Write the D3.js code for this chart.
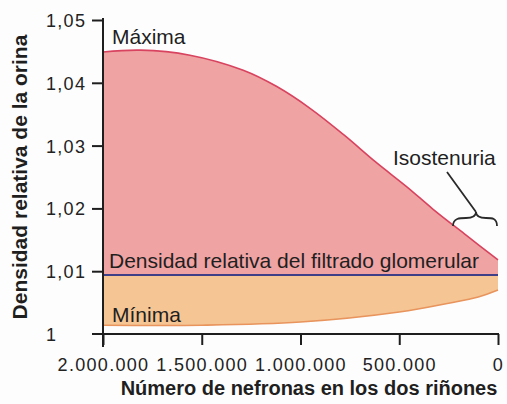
<!DOCTYPE html>
<html>
<head>
<meta charset="utf-8">
<script src="https://cdn.jsdelivr.net/npm/d3@7"></script>
<style>
  html, body { margin: 0; padding: 0; background: #fdfdfd; }
  svg { display: block; font-family: "Liberation Sans", Arial, Helvetica, sans-serif; }
</style>
</head>
<body>
<svg id="chart" width="507" height="404"></svg>
<script>
// ---- data ----
const nefronasMax = [2000000, 1810000, 1560000, 1290000, 1120000, 950000, 780000, 620000, 460000, 330000, 160000, 0];
const densidadMax = [1.0449, 1.0452, 1.0444, 1.0420, 1.0394, 1.0359, 1.0317, 1.0274, 1.0234, 1.0199, 1.0157, 1.0118];
const nefronasMin = [2000000, 1500000, 1000000, 500000, 250000, 100000, 0];
const densidadMin = [1.0014, 1.0014, 1.0019, 1.0035, 1.0049, 1.0059, 1.0070];
const nefronasFiltrado = [2000000, 0];
const densidadFiltrado = [1.0094, 1.0094];
const xTicks = [2000000, 1500000, 1000000, 500000, 0];
const yTicks = [1, 1.01, 1.02, 1.03, 1.04, 1.05];
const labelMax = "Máxima";
const labelMin = "Mínima";
const labelFiltrado = "Densidad relativa del filtrado glomerular";
const labelIso = "Isostenuria";
const xTitle = "Número de nefronas en los dos riñones";
const yTitle = "Densidad relativa de la orina";

const svg = d3.select("#chart");
const x = d3.scaleLinear().domain([2000000, 0]).range([103, 498]);
const y = d3.scaleLinear().domain([1, 1.05]).range([334, 20]);

const loc = d3.formatLocale({decimal: ",", thousands: ".", grouping: [3], currency: ["", "€"]});
const fx = loc.format(",.0f");
const fy = loc.format(",.2~f");

const maxData = nefronasMax.map((n, i) => ({n, v: densidadMax[i]}));
const minData = nefronasMin.map((n, i) => ({n, v: densidadMin[i]}));
const filtLevel = densidadFiltrado[0];
const curve = d3.curveCatmullRom.alpha(0.5);

// red area: between Máxima curve and filtrado line
svg.append("path")
  .datum(maxData)
  .attr("fill", "#f0a3a3")
  .attr("d", d3.area().x(d => x(d.n)).y0(y(filtLevel)).y1(d => y(d.v)).curve(curve));
// orange area: between filtrado line and Mínima curve
svg.append("path")
  .datum(minData)
  .attr("fill", "#f5c594")
  .attr("d", d3.area().x(d => x(d.n)).y0(y(filtLevel)).y1(d => y(d.v)).curve(curve));

// Máxima stroke
svg.append("path")
  .datum(maxData)
  .attr("fill", "none").attr("stroke", "#d8435f").attr("stroke-width", 1.6)
  .attr("d", d3.line().x(d => x(d.n)).y(d => y(d.v)).curve(curve));
// Mínima stroke
svg.append("path")
  .datum(minData)
  .attr("fill", "none").attr("stroke", "#e8945c").attr("stroke-width", 1.6)
  .attr("d", d3.line().x(d => x(d.n)).y(d => y(d.v)).curve(curve));
// filtrado line
svg.append("path")
  .datum(nefronasFiltrado.map((n, i) => ({n, v: densidadFiltrado[i]})))
  .attr("fill", "none").attr("stroke", "#3e3f86").attr("stroke-width", 2)
  .attr("d", d3.line().x(d => x(d.n)).y(d => y(d.v)));

// axes
const axisColor = "#1e1e1e";
const yAxis = svg.append("g").attr("transform", `translate(${x(2000000)},0)`)
  .call(d3.axisLeft(y).tickValues(yTicks).tickFormat(fy).tickSize(11).tickSizeOuter(0));
yAxis.select(".domain").remove();
yAxis.selectAll(".tick line").attr("stroke", axisColor).attr("stroke-width", 2);
yAxis.selectAll(".tick text")
  .attr("text-anchor", "start").attr("x", -57).attr("dy", "0.36em")
  .attr("fill", "#222").style("font-size", "18px").style("letter-spacing", "1.3px");
yAxis.selectAll(".tick").filter(d => d === 1).select("line").remove();

const xAxis = svg.append("g").attr("transform", `translate(0,${y(1)})`)
  .call(d3.axisBottom(x).tickValues(xTicks).tickFormat(fx).tickSize(11).tickSizeOuter(0));
xAxis.select(".domain").remove();
xAxis.selectAll(".tick line").attr("stroke", axisColor).attr("stroke-width", 2);
xAxis.selectAll(".tick text")
  .attr("y", 24).attr("dy", "0.71em")
  .attr("fill", "#222").style("font-size", "18px").style("letter-spacing", "1.3px");

// axis lines
svg.append("line").attr("x1", x(2000000)).attr("x2", x(2000000)).attr("y1", y(1.05) - 2).attr("y2", y(1) + 13)
  .attr("stroke", axisColor).attr("stroke-width", 2);
svg.append("line").attr("x1", x(2000000) - 11).attr("x2", x(0) + 1).attr("y1", y(1)).attr("y2", y(1))
  .attr("stroke", axisColor).attr("stroke-width", 2);

// series labels
const lab = (t, px, py, size) => svg.append("text").attr("x", px).attr("y", py).text(t)
  .attr("fill", "#1f1f1f").style("font-size", (size || 21) + "px");
lab(labelMax, 112, 44);
lab(labelFiltrado, 109, 268);
lab(labelMin, 112, 322);
lab(labelIso, 393, 165);

// brace for isostenuria
svg.append("path")
  .attr("d", "M447,172 L476,212 M453,226 C453,218 460,218 466,218 C472,218 476,216 476,212 C476,216 480,218 486,218 C492,218 497,218 497,226")
  .attr("fill", "none").attr("stroke", "#2a2a2a").attr("stroke-width", 1.8);

// axis titles
svg.append("text").attr("x", 309).attr("y", 395).attr("text-anchor", "middle")
  .style("font-size", "20px").style("font-weight", "bold").attr("fill", "#1f1f1f").text(xTitle);
svg.append("text").attr("transform", "translate(27,177) rotate(-90)").attr("text-anchor", "middle")
  .style("font-size", "21px").style("font-weight", "bold").attr("fill", "#1f1f1f").text(yTitle);
</script>
</body>
</html>
